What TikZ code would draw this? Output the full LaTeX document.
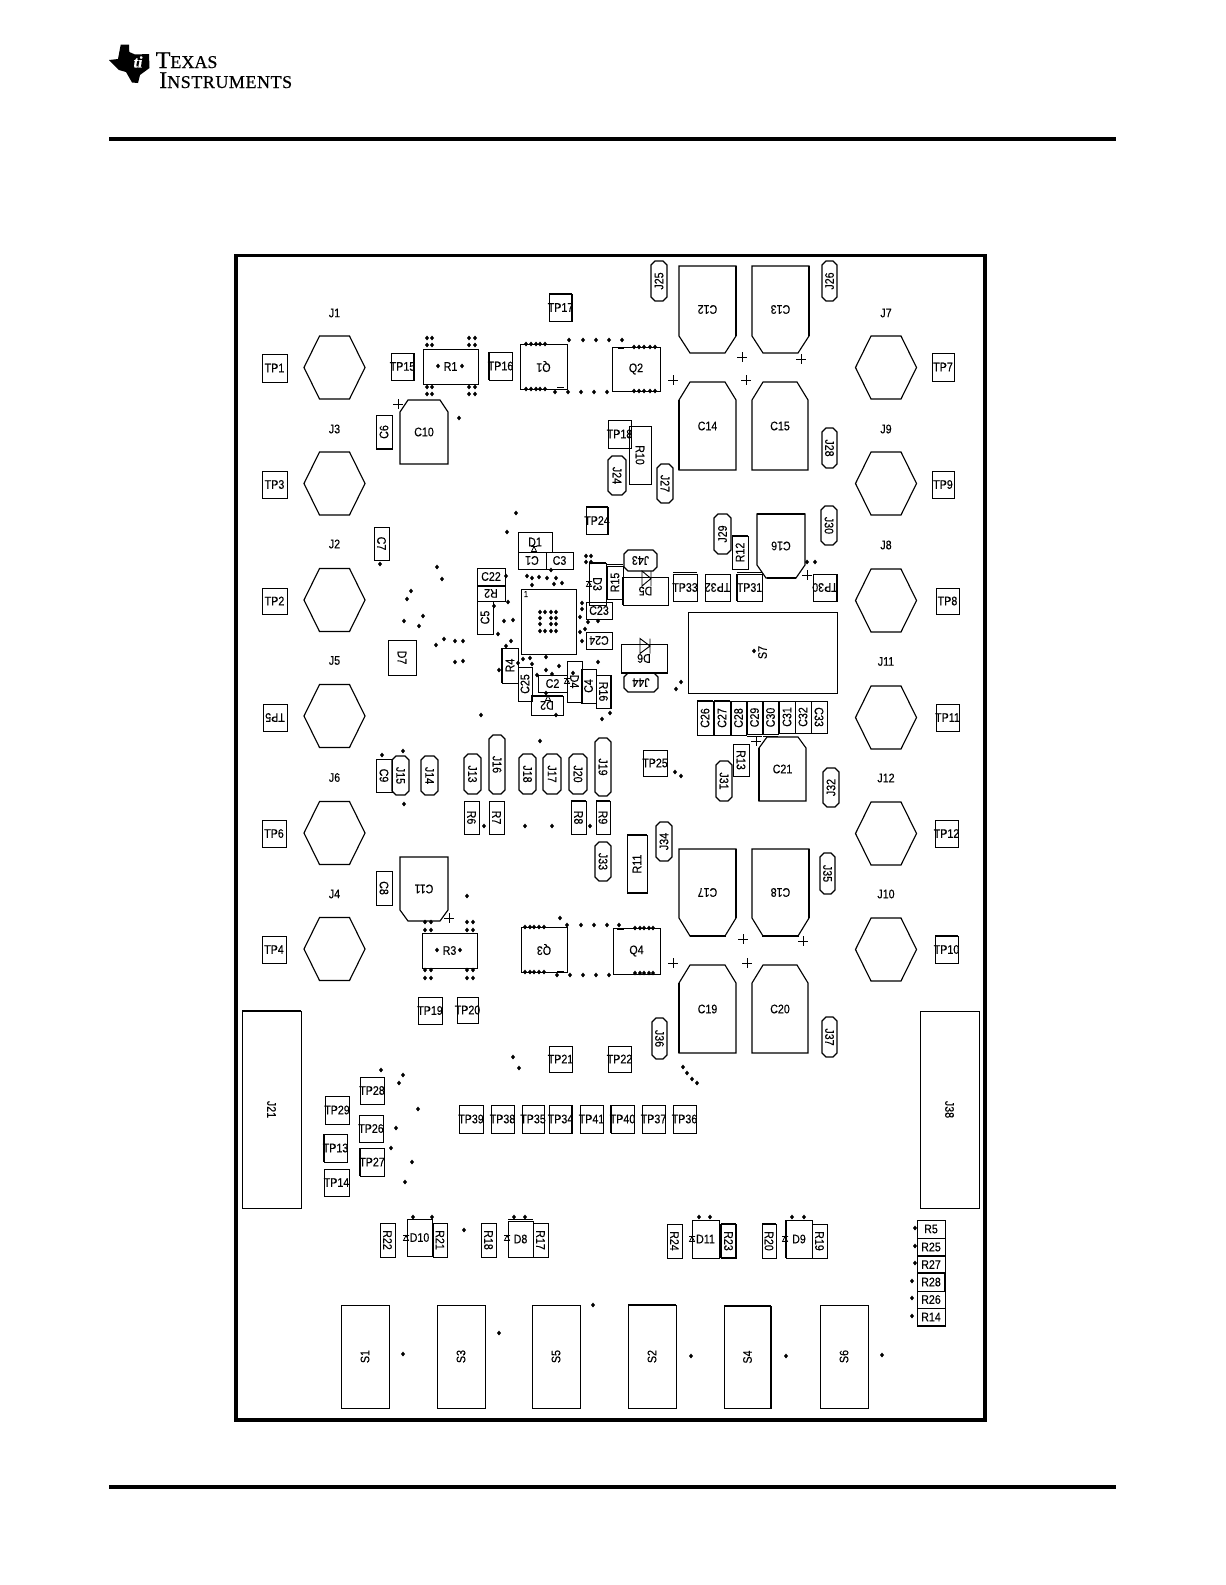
\documentclass[tikz,border=0pt]{standalone}
\usepackage{fontspec}
\usepackage{graphicx}
\setmainfont[FakeStretch=0.86,FakeBold=0.25]{Liberation Sans}
\newfontfamily\logofont[FakeBold=0.6]{Liberation Serif}
\tikzset{
  pcbpart/.style={draw=black,line width=0.75pt,inner sep=0pt,outer sep=0pt,fill=none},
  pcblabel/.style={inner sep=0pt,outer sep=0pt,font=\fontsize{9.3}{9.3}\selectfont,text=black},
  pcbline/.style={draw=black,line width=0.85pt,line join=miter},
  tiny/.style={inner sep=0pt,outer sep=0pt,font=\fontsize{6.5}{6.5}\selectfont,text=black},
  boardedge/.style={draw=black,line width=2.3pt},
  hrule/.style={draw=black,line width=2.3pt},
  dotmark/.style={fill=black,draw=none},
  thk/.style={draw=black,line width=1.7pt},
  logotext/.style={inner sep=0pt,anchor=base west,text depth=0pt,text height=11pt,font=\logofont\fontsize{13.5}{13.5}\selectfont},
}
% rectangle part: name, x1,y1,x2,y2, rotation, label
\newcommand{\pcb}[7]{%
  \node[pcbpart,minimum width={((#4)-(#2))*0.75pt},minimum height={((#5)-(#3))*0.75pt}] (#1) at ({((#2)+(#4))/2},{((#3)+(#5))/2}) {};
  \node[pcblabel,rotate=#6] (#1-t) at (#1.center) {#7};}
% chamfered jumper
\newcommand{\pill}[7]{%
  \draw[pcbline] ({#2+4},#3) -- ({#4-4},#3) -- (#4,{#3+4}) -- (#4,{#5-4}) -- ({#4-4},#5) -- ({#2+4},#5) -- (#2,{#5-4}) -- (#2,{#3+4}) -- cycle;
  \node[pcblabel,rotate=#6] (#1) at ({(#2+#4)/2},{(#3+#5)/2}) {#7};}
% capacitor chamfered at bottom: name,x1,y1,x2,y2,cx,cy,rot,label
\newcommand{\capb}[9]{%
  \draw[pcbline] (#2,#3) -- (#4,#3) -- (#4,{#5-#7}) -- ({#4-#6},#5) -- ({#2+#6},#5) -- (#2,{#5-#7}) -- cycle;
  \node[pcblabel,rotate=#8] (#1) at ({(#2+#4)/2},{(#3+#5)/2}) {#9};}
% capacitor chamfered at top
\newcommand{\capt}[9]{%
  \draw[pcbline] (#2,#5) -- (#4,#5) -- (#4,{#3+#7}) -- ({#4-#6},#3) -- ({#2+#6},#3) -- (#2,{#3+#7}) -- cycle;
  \node[pcblabel,rotate=#8] (#1) at ({(#2+#4)/2},{(#3+#5)/2}) {#9};}
% hexagon with a label above
\newcommand{\hexa}[5]{%
  \draw[pcbline] ({#2-30.5},#3) -- ({#2-15},{#3-31.5}) -- ({#2+15},{#3-31.5}) -- ({#2+30.5},#3) -- ({#2+15},{#3+31.5}) -- ({#2-15},{#3+31.5}) -- cycle;
  \node[pcblabel] (#1) at (#2,#4) {#5};}
\newcommand{\plusm}[2]{\draw[line width=0.7pt] ({#1-5},#2) -- ({#1+5},#2) ({#1},{#2-5}) -- ({#1},{#2+5});}
% diode pointing right: triangle base x, ymid, half height, length
\newcommand{\diode}[4]{\draw[line width=0.7pt] (#1,{#2-#3}) -- (#1,{#2+#3}) -- ({#1+#4},#2) -- cycle ({#1+#4},{#2-#3}) -- ({#1+#4},{#2+#3});}
\newcommand{\zen}[2]{\draw[line width=0.6pt] ({#1-2.5},{#2+2.5}) -- ({#1+2.5},{#2+2.5}) -- (#1,{#2-2.5}) -- cycle ({#1-3},{#2-2.5}) -- ({#1+3},{#2-2.5});}
% one heavier side of a part
\newcommand{\thT}[1]{\draw[thk] (#1.north west) -- (#1.north east);}
\newcommand{\thB}[1]{\draw[thk] (#1.south west) -- (#1.south east);}
\newcommand{\thL}[1]{\draw[thk] (#1.north west) -- (#1.south west);}
\newcommand{\thR}[1]{\draw[thk] (#1.north east) -- (#1.south east);}
\begin{document}
\begin{tikzpicture}[x=0.75pt,y=-0.75pt]
\useasboundingbox (0,0) rectangle (1225,1585);
% header logo
\fill[black] (120.7,44.7) -- (129,44.7) -- (129.3,52) -- (135,54.5) -- (149,54) -- (149.5,68) -- (140,75) -- (138,83) -- (132,82.5) -- (126,72) -- (119,70) -- (114,65) -- (109,60) -- (118,59) -- cycle;
\node[inner sep=0pt,text=white,font=\logofont\bfseries\itshape\fontsize{12}{12}\selectfont] (tilogo) at (138,62) {ti};
\node[logotext] (texas) at (155.5,68) {{\fontsize{18}{18}\selectfont T}EXAS};
\node[logotext] (instr) at (159,88) {\addfontfeature{LetterSpace=3}{\fontsize{18}{18}\selectfont I}NSTRUMENTS};
\coordinate (ra) at (109,139); \coordinate (rb) at (1116,139);
\coordinate (rc) at (109,1487); \coordinate (rd) at (1116,1487);
\draw[hrule] (ra) -- (rb);
\draw[hrule] (rc) -- (rd);
% board
\draw[boardedge] (236,255.5) rectangle (985,1420);
% left hexes
\hexa{J1}{334.5}{367.5}{313}{J1}
\hexa{J3}{334.5}{483.5}{429}{J3}
\hexa{J2}{334.5}{600}{544}{J2}
\hexa{J5}{334.5}{716}{660.5}{J5}
\hexa{J6}{334.5}{833}{777.5}{J6}
\hexa{J4}{334.5}{949}{894}{J4}
\hexa{J7}{886}{367.5}{313}{J7}
\hexa{J9}{886}{483.5}{429}{J9}
\hexa{J8}{886}{600.5}{545}{J8}
\hexa{J11}{886}{717.5}{661.5}{J11}
\hexa{J12}{886}{833.5}{778}{J12}
\hexa{J10}{886}{949.5}{894}{J10}
% side test points
\pcb{TP1}{262}{354}{287}{382}{0}{TP1}
\pcb{TP3}{262}{471}{287}{498}{0}{TP3}
\pcb{TP2}{262}{588}{287}{614}{0}{TP2}
\pcb{TP5}{263}{704}{287}{731}{180}{TP5}
\pcb{TP6}{262}{820}{286}{847}{0}{TP6}
\pcb{TP4}{262}{936}{286}{963}{0}{TP4}
\pcb{TP7}{932}{353}{954}{381}{0}{TP7}
\pcb{TP9}{932}{471}{954}{498}{0}{TP9}
\pcb{TP8}{936}{588}{959}{614}{0}{TP8}
\pcb{TP11}{936}{704}{959}{731}{0}{TP11}
\pcb{TP12}{935}{820}{958}{847}{0}{TP12}
\pcb{TP10}{935}{936}{958}{963}{0}{TP10}
% top power area
\pcb{R1}{423}{349}{478}{384}{0}{R1}
\pcb{TP15}{391}{353}{414}{380}{0}{TP15}
\pcb{TP16}{489}{352}{512}{380}{0}{TP16}
\pcb{Q1}{520}{344}{567}{389}{180}{Q1}
\pcb{Q2}{612}{347}{660}{391}{0}{Q2}
\pcb{TP17}{549}{294}{572}{321}{0}{TP17}
\capt{C10}{400}{400}{448}{464}{8}{12}{0}{C10}
\pcb{C6}{376}{415}{392}{449}{90}{C6}
\pcb{TP18}{608}{420}{631}{448}{0}{TP18}
\pcb{R10}{629}{426}{651}{484}{-90}{R10}
\pill{J24}{608}{456}{626}{495}{-90}{J24}
\pill{J25}{651}{261}{667}{301}{90}{J25}
\pill{J26}{822}{261}{837}{301}{90}{J26}
\capb{C12}{679}{266}{736}{353}{11}{17}{180}{C12}
\capb{C13}{752}{266}{809}{353}{11}{17}{180}{C13}
\capt{C14}{679}{382}{736}{470}{11}{18}{0}{C14}
\capt{C15}{752}{382}{808}{470}{11}{18}{0}{C15}
\pill{J28}{822}{428}{837}{468}{-90}{J28}
\pill{J27}{657}{464}{673}{503}{-90}{J27}
\plusm{742}{357}\plusm{801}{359}\plusm{673}{380}\plusm{746}{380}\plusm{398}{404}
% right middle
\pill{J29}{714}{514}{731}{554}{90}{J29}
\pcb{R12}{732}{536}{748}{569}{90}{R12}
\capb{C16}{757}{514}{805}{578}{9}{13}{180}{C16}
\pill{J30}{821}{506}{837}{545}{-90}{J30}
\plusm{807}{575}
\pcb{TP33}{673}{574}{697}{601}{0}{TP33}
\pcb{TP32}{705}{574}{730}{601}{180}{TP32}
\pcb{TP31}{737}{574}{762}{601}{0}{TP31}
\pcb{TP30}{813}{574}{837}{601}{180}{TP30}
\pcb{S7}{688}{612}{837}{693}{90}{S7}
\pcb{C26}{697}{701}{713}{735}{90}{C26}
\pcb{C27}{714}{701}{730}{735}{90}{C27}
\pcb{C28}{731}{701}{746}{735}{90}{C28}
\pcb{C29}{747}{701}{762}{734}{90}{C29}
\pcb{C30}{763}{701}{778}{734}{90}{C30}
\pcb{C31}{779}{701}{795}{733}{90}{C31}
\pcb{C32}{795}{701}{811}{733}{90}{C32}
\pcb{C33}{811}{701}{827}{733}{-90}{C33}
\plusm{756}{741}
\capt{C21}{759}{737}{806}{801}{8}{11}{0}{C21}
\pcb{R13}{733}{744}{749}{776}{-90}{R13}
\pill{J31}{716}{761}{732}{801}{-90}{J31}
\pill{J32}{823}{768}{839}{807}{90}{J32}
\pcb{TP25}{643}{750}{667}{776}{0}{TP25}
% centre
\pcb{TP24}{586}{507}{608}{534}{0}{TP24}
\pcb{C7}{374}{527}{389}{560}{-90}{C7}
\pcb{D1}{518}{532}{552}{552}{0}{D1}
\pcb{C1}{518}{552}{546}{569}{180}{C1}
\pcb{C3}{546}{552}{573}{569}{0}{C3}
\pcb{C22}{477}{568}{505}{585}{0}{C22}
\pcb{R2}{477}{586}{505}{601}{180}{R2}
\pcb{C5}{477}{601}{493}{634}{90}{C5}
\pcb{U1}{521}{589}{576}{654}{0}{}
\node[tiny] (U1pin) at (526,594) {1};
\pcb{D3}{589}{563}{606}{605}{-90}{D3}
\pcb{R15}{607}{566}{623}{599}{90}{R15}
\pcb{D5}{623}{577}{668}{605}{180}{D5}
\pcb{C23}{586}{602}{612}{619}{0}{C23}
\pcb{C24}{586}{632}{612}{649}{180}{C24}
\pcb{D6}{621}{644}{667}{673}{180}{D6}
\pill{J43}{624}{550}{657}{571}{180}{J43}
\pill{J44}{624}{673}{658}{692}{180}{J44}
\diode{642}{578.5}{7.5}{9}
\diode{640}{646}{7.5}{10}
\pcb{D7}{388}{640}{416}{675}{-90}{D7}
\pcb{R4}{502}{648}{518}{683}{90}{R4}
\pcb{C25}{518}{667}{532}{701}{90}{C25}
\pcb{C2}{538}{675}{567}{692}{0}{C2}
\pcb{D4}{567}{661}{582}{702}{-90}{D4}
\pcb{C4}{581}{669}{596}{703}{90}{C4}
\pcb{R16}{596}{675}{611}{708}{-90}{R16}
\pcb{D2}{531}{696}{563}{715}{180}{D2}
\zen{534}{549}\zen{589}{584}\zen{567}{681}\zen{548}{698}
% lower-left row
\pcb{C9}{376}{759}{392}{792}{-90}{C9}
\pill{J15}{392}{756}{409}{795}{-90}{J15}
\pill{J14}{421}{756}{438}{795}{-90}{J14}
\pill{J13}{464}{754}{481}{794}{-90}{J13}
\pill{J16}{489}{735}{505}{794}{-90}{J16}
\pill{J18}{519}{754}{536}{794}{-90}{J18}
\pill{J17}{543}{754}{561}{794}{-90}{J17}
\pill{J20}{569}{754}{587}{794}{-90}{J20}
\pill{J19}{595}{738}{611}{796}{-90}{J19}
\pcb{R6}{464}{801}{479}{834}{-90}{R6}
\pcb{R7}{489}{801}{504}{834}{-90}{R7}
\pcb{R8}{571}{801}{586}{834}{-90}{R8}
\pcb{R9}{596}{801}{610}{834}{-90}{R9}
\pill{J33}{595}{842}{611}{881}{-90}{J33}
\pcb{R11}{627}{835}{647}{893}{90}{R11}
\pill{J34}{656}{822}{672}{861}{90}{J34}
\pcb{C8}{376}{871}{392}{905}{-90}{C8}
\capb{C11}{400}{857}{448}{921}{8}{11}{180}{C11}
\plusm{449}{918}
% lower power area
\capb{C17}{679}{849}{736}{936}{11}{18}{180}{C17}
\capb{C18}{752}{849}{809}{936}{11}{18}{180}{C18}
\plusm{743}{939}\plusm{803}{941}\plusm{673}{963}\plusm{747}{963}
\capt{C19}{679}{965}{736}{1053}{11}{18}{0}{C19}
\capt{C20}{752}{965}{808}{1053}{11}{18}{0}{C20}
\pill{J35}{820}{853}{835}{894}{-90}{J35}
\pill{J37}{822}{1017}{837}{1057}{-90}{J37}
\pill{J36}{652}{1018}{667}{1059}{-90}{J36}
\pcb{Q3}{521}{927}{567}{972}{180}{Q3}
\pcb{Q4}{613}{928}{660}{974}{0}{Q4}
\pcb{R3}{422}{933}{477}{968}{0}{R3}
\pcb{TP19}{418}{997}{442}{1024}{0}{TP19}
\pcb{TP20}{457}{997}{478}{1023}{0}{TP20}
\pcb{J21}{242}{1011}{301}{1208}{-90}{J21}
\pcb{J38}{920}{1011}{979}{1208}{-90}{J38}
\pcb{TP21}{549}{1046}{572}{1072}{0}{TP21}
\pcb{TP22}{608}{1046}{631}{1072}{0}{TP22}
\pcb{TP28}{360}{1077}{384}{1104}{0}{TP28}
\pcb{TP29}{325}{1096}{349}{1124}{0}{TP29}
\pcb{TP26}{359}{1115}{383}{1142}{0}{TP26}
\pcb{TP13}{324}{1134}{347}{1162}{0}{TP13}
\pcb{TP27}{360}{1148}{384}{1176}{0}{TP27}
\pcb{TP14}{324}{1169}{349}{1196}{0}{TP14}
\pcb{TP39}{459}{1105}{483}{1133}{0}{TP39}
\pcb{TP38}{491}{1105}{514}{1133}{0}{TP38}
\pcb{TP35}{522}{1105}{544}{1133}{0}{TP35}
\pcb{TP34}{549}{1105}{572}{1133}{0}{TP34}
\pcb{TP41}{580}{1105}{603}{1133}{0}{TP41}
\pcb{TP40}{611}{1105}{634}{1133}{0}{TP40}
\pcb{TP37}{642}{1105}{665}{1133}{0}{TP37}
\pcb{TP36}{673}{1105}{696}{1133}{0}{TP36}
% bottom zener row
\pcb{R22}{380}{1223}{395}{1257}{-90}{R22}
\pcb{D10}{407}{1219}{432}{1256}{0}{D10}
\pcb{R21}{433}{1223}{447}{1257}{-90}{R21}
\pcb{R18}{481}{1223}{496}{1257}{-90}{R18}
\pcb{D8}{508}{1221}{533}{1257}{0}{D8}
\pcb{R17}{533}{1223}{548}{1257}{-90}{R17}
\pcb{R24}{667}{1224}{682}{1258}{-90}{R24}
\pcb{D11}{692}{1220}{719}{1258}{0}{D11}
\pcb{R23}{721}{1224}{736}{1258}{-90}{R23}
\pcb{R20}{762}{1224}{776}{1258}{-90}{R20}
\pcb{D9}{786}{1220}{812}{1258}{0}{D9}
\pcb{R19}{812}{1224}{827}{1258}{-90}{R19}
\zen{406}{1238}\zen{507}{1238}\zen{692}{1239}\zen{785}{1239}
\pcb{R5}{917}{1220}{945}{1238}{0}{R5}
\pcb{R25}{917}{1238}{945}{1256}{0}{R25}
\pcb{R27}{917}{1256}{945}{1273}{0}{R27}
\pcb{R28}{917}{1273}{945}{1291}{0}{R28}
\pcb{R26}{917}{1291}{945}{1308}{0}{R26}
\pcb{R14}{917}{1308}{945}{1326}{0}{R14}
\pcb{S1}{341}{1305}{389}{1408}{90}{S1}
\pcb{S3}{437}{1305}{485}{1408}{90}{S3}
\pcb{S5}{532}{1305}{580}{1408}{90}{S5}
\pcb{S2}{628}{1305}{676}{1408}{90}{S2}
\pcb{S4}{724}{1306}{771}{1408}{90}{S4}
\pcb{S6}{820}{1305}{868}{1408}{90}{S6}
% heavier sides as the plot shows them
\thT{TP17}\thR{TP17}\thL{TP16}\thB{C6}\thT{R12}\thL{TP31}\thR{TP30}\thT{C26}\thT{C27}
\thT{TP24}\thR{TP24}\thT{D3}\thL{R4}\thT{D2}\thR{R16}\thT{R8}\thT{R9}\thT{R11}\thB{R11}
\thT{S4}\thR{S4}\thT{S2}\thT{R23}\thB{R23}\thL{R23}\thR{R23}\thT{R20}\thL{D9}\thL{TP13}\thL{TP27}
\thR{TP34}\thL{TP40}\thT{J21}\thL{D5}\thB{D6}\thB{R25}\thB{R27}\thR{R28}\thB{R14}\thT{TP10}\thL{TP16}\thR{TP15}
\draw[thk] (736,266) -- (736,336) (809,266) -- (809,336) (679,400) -- (679,470) (757,514) -- (805,514) (767,578) -- (796,578);
\draw[thk] (736,849) -- (736,918) (690,936) -- (726,936) (809,849) -- (809,918) (762,936) -- (799,936) (759,748) -- (759,801) (679,983) -- (679,1053);
% extra short outline pieces
\draw[line width=0.7pt] (673,572) -- (697,572) (737,572) -- (762,572) (607,564) -- (623,564) (747,736) -- (762,736) (763,736) -- (778,736) (508,1219) -- (533,1219);
% small marks
\draw[line width=0.6pt] (557,387) -- (564,387) (618,348) -- (624,348) (557,971) -- (564,971) (617,929) -- (624,929);
% dots
\foreach \px/\py in {
438/366,462/366,427/338,432/338,427/345,432/345,469/338,475/338,469/345,475/345,
427/387,432/387,427/394,432/394,469/387,475/387,469/394,475/394,
526/344,531/344,536/344,540/344,545/344,526/389,531/389,536/389,540/389,545/389,
569/340,583/340,596/340,609/340,622/340,555/392,568/392,581/392,594/392,607/392,
634/347,639/347,644/347,650/347,655/347,634/391,639/391,644/391,650/391,655/391,
459/418,807/562,815/562,754/651,681/682,676/689,675/772,681/776,
380/564,516/513,507/532,437/567,442/579,411/591,407/599,423/616,404/621,419/626,444/639,436/645,455/641,463/641,455/662,463/661,
506/576,527/576,532/578,539/577,547/578,556/578,532/585,554/584,562/583,551/570,508/602,494/606,504/621,513/620,498/634,511/641,506/646,
523/659,530/658,518/663,532/664,499/670,537/675,546/670,552/674,559/666,546/657,546/693,481/715,556/715,573/673,598/662,602/719,610/713,
580/632,582/641,585/629,588/622,598/621,580/617,582/609,582/603,586/556,591/556,586/562,591/562,
540/612,545/612,551/612,556/612,540/618,551/618,556/618,540/624,551/624,556/624,540/631,545/631,551/631,556/631,
382/755,403/751,404/804,484/826,525/826,552/826,590/826,540/741,467/896,
425/922,431/922,467/922,473/922,425/930,431/930,467/930,473/930,425/970,431/970,467/970,473/970,425/978,431/978,467/978,473/978,437/950,460/950,
525/927,530/927,534/927,539/927,544/927,525/972,530/972,534/972,539/972,544/972,
560/918,567/925,581/925,594/925,607/925,619/925,557/975,570/975,583/975,596/975,609/975,
635/928,640/928,644/928,649/928,653/928,635/973,640/973,644/973,649/973,653/973,
381/1070,403/1075,399/1083,418/1109,396/1128,391/1148,412/1162,405/1182,513/1057,519/1068,683/1067,687/1073,692/1079,697/1083,464/1230,
699/1217,710/1217,792/1217,804/1217,413/1217,432/1217,514/1217,525/1217,
915/1228,915/1246,915/1263,912/1281,912/1298,912/1316,
691/1356,786/1356,882/1355,403/1354,499/1333,593/1305}
  {\fill[dotmark] (\px-2,\py) -- (\px,\py-2.4) -- (\px+2,\py) -- (\px,\py+2.4) -- cycle;}
\end{tikzpicture}
\end{document}
